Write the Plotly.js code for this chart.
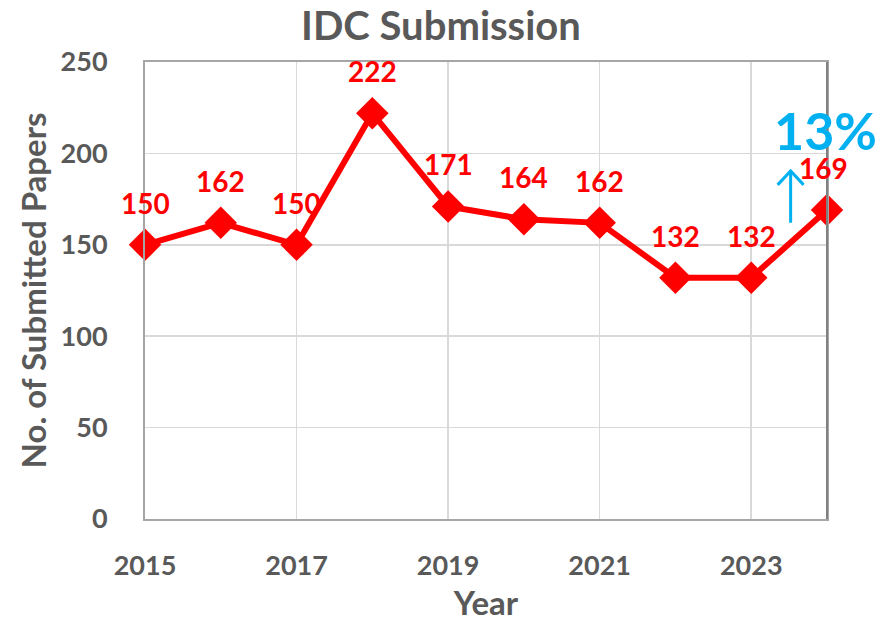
<!DOCTYPE html>
<html><head><meta charset="utf-8">
<script src="https://cdn.plot.ly/plotly-3.0.1.min.js"></script>
<style>html,body{margin:0;padding:0;background:#fff}#c{width:882px;height:622px}</style>
</head><body><div id="c"></div>
<script>
const years = [2015, 2016, 2017, 2018, 2019, 2020, 2021, 2022, 2023, 2024];
const submissions = [150, 162, 150, 222, 171, 164, 162, 132, 132, 169];
const xTicks = [2015, 2017, 2019, 2021, 2023];
const yTicks = [0, 50, 100, 150, 200, 250];
const growthLabel = "13%";

const FONT = "Lato, 'Open Sans', sans-serif";
const GRAY = "#595959";
const RED = "#FF0000";
const BLUE = "#00B0F0";

const trace = {
  x: years, y: submissions, type: "scatter", mode: "lines+markers",
  line: {color: RED, width: 6},
  marker: {symbol: "diamond", size: 25, color: RED},
  cliponaxis: false, hoverinfo: "skip"
};

const labelAnns = years.map((yr, i) => ({
  x: yr, y: submissions[i], text: String(submissions[i]),
  showarrow: false, yshift: 42, xshift: (i === years.length - 1 ? -4 : 0),
  font: {family: FONT, size: 28, color: RED, weight: 700}
}));

const layout = {
  width: 882, height: 622,
  margin: {l: 145, r: 55, t: 62, b: 103},
  paper_bgcolor: "#fff", plot_bgcolor: "#fff",
  showlegend: false,
  title: {text: "<b>IDC Submission</b>", x: 0.5, xanchor: "center", y: 0.958, yanchor: "middle",
          font: {family: FONT, size: 40, color: GRAY}},
  xaxis: {
    range: [2015, 2024], tickvals: xTicks, ticktext: xTicks.map(String),
    showgrid: true, gridcolor: "#D9D9D9", gridwidth: 1.5,
    showline: true, linecolor: "#A6A6A6", linewidth: 2, mirror: true,
    ticks: "", ticklabelstandoff: 22, zeroline: false,
    tickfont: {family: FONT, size: 27, color: GRAY, weight: 700},
    title: {text: "<b>Year</b>", standoff: 18, font: {family: FONT, size: 33, color: GRAY}}
  },
  yaxis: {
    range: [0, 250], tickvals: yTicks,
    showgrid: true, gridcolor: "#D9D9D9", gridwidth: 1.5,
    showline: true, linecolor: "#A6A6A6", linewidth: 2, mirror: true,
    ticks: "", ticklabelstandoff: 30, zeroline: false,
    tickfont: {family: FONT, size: 27, color: GRAY, weight: 700},
    title: {text: "<b>No. of Submitted Papers</b>", standoff: 4, font: {family: FONT, size: 33, color: GRAY}}
  },
  shapes: [
    {type: "line", xref: "paper", yref: "paper", x0: 1, x1: 1, y0: 0, y1: 1,
     line: {color: "#808080", width: 2}},
    {type: "path", xref: "x", yref: "y", xsizemode: "pixel", ysizemode: "pixel",
     xanchor: 2023.52, yanchor: 162,
     path: "M0,0 L0,52 M-13,38 L0,52 L13,38",
     line: {color: BLUE, width: 3}}
  ],
  annotations: labelAnns.concat([
    {x: 2024, y: 213, xref: "x", yref: "y", text: "<b>" + growthLabel + "</b>", showarrow: false,
     xshift: -2, font: {family: FONT, size: 52, color: BLUE}}
  ])
};

Plotly.newPlot("c", [trace], layout, {displayModeBar: false, staticPlot: true});
</script></body></html>
